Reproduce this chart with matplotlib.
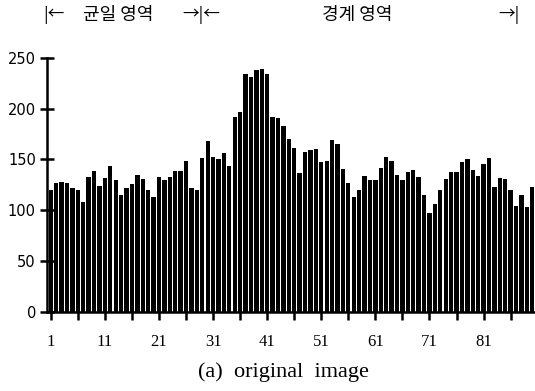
import numpy as np
import matplotlib.pyplot as plt

# bar heights, positions 1..90
values = [120, 127, 128, 127, 122, 120, 108, 133, 139, 124,
          132, 143, 130, 115, 122, 126, 135, 131, 120, 113,
          133, 130, 133, 139, 139, 148, 122, 120, 151, 168,
          152, 150, 156, 143, 192, 197, 234, 231, 238, 239,
          234, 192, 191, 183, 170, 161, 137, 157, 159, 160,
          147, 148, 169, 165, 141, 127, 113, 120, 134, 130,
          130, 142, 152, 148, 135, 130, 138, 140, 133, 115,
          97, 106, 120, 131, 138, 138, 147, 150, 140, 134,
          145, 151, 123, 132, 131, 120, 104, 115, 103, 123]
x_labels = [1, 11, 21, 31, 41, 51, 61, 71, 81]
y_ticks = [0, 50, 100, 150, 200, 250]

x = np.arange(1, len(values) + 1)

fig = plt.figure(figsize=(5.35, 3.91), dpi=100)
ax = fig.add_axes([47 / 535, 79.5 / 391, 488.5 / 535, 253.5 / 391])

ax.bar(x, values, width=0.8, color='black')

ax.set_xlim(0.3, 90.6)
ax.set_ylim(0, 250)

# spines
for s in ['top', 'right']:
    ax.spines[s].set_visible(False)
ax.spines['left'].set_linewidth(1.8)
ax.spines['bottom'].set_linewidth(1.8)

ax.set_yticks(y_ticks)
ax.set_yticklabels([str(v) for v in y_ticks], fontsize=10.5, family='DejaVu Sans')
ax.tick_params(axis='y', direction='inout', length=10, width=1.8, pad=3)

ax.set_xticks(x_labels)
ax.set_xticklabels([str(v) for v in x_labels], fontsize=12, family='Liberation Serif')
ax.set_xticks(np.arange(6, 91, 10), minor=True)
ax.tick_params(axis='x', which='both', direction='out', length=6, width=1.8, pad=10)

# caption and region header
fig.text(0.53, 1 - 372 / 391, '(a)  original  image', ha='center', va='center',
         fontsize=16, family='Liberation Serif')

kfont = ['Noto Sans CJK KR', 'DejaVu Sans']
top_y = 1 - 15 / 391
fig.text(43 / 535, top_y, '|←', ha='left', va='center', fontsize=12, family=kfont)
fig.text(83 / 535, top_y, '균일 영역', ha='left', va='center', fontsize=13, family=kfont)
fig.text(182 / 535, top_y, '→|←', ha='left', va='center', fontsize=12, family=kfont)
fig.text(322 / 535, top_y, '경계 영역', ha='left', va='center', fontsize=13, family=kfont)
fig.text(498 / 535, top_y, '→|', ha='left', va='center', fontsize=12, family=kfont)

fig.savefig('out.png', dpi=100)
